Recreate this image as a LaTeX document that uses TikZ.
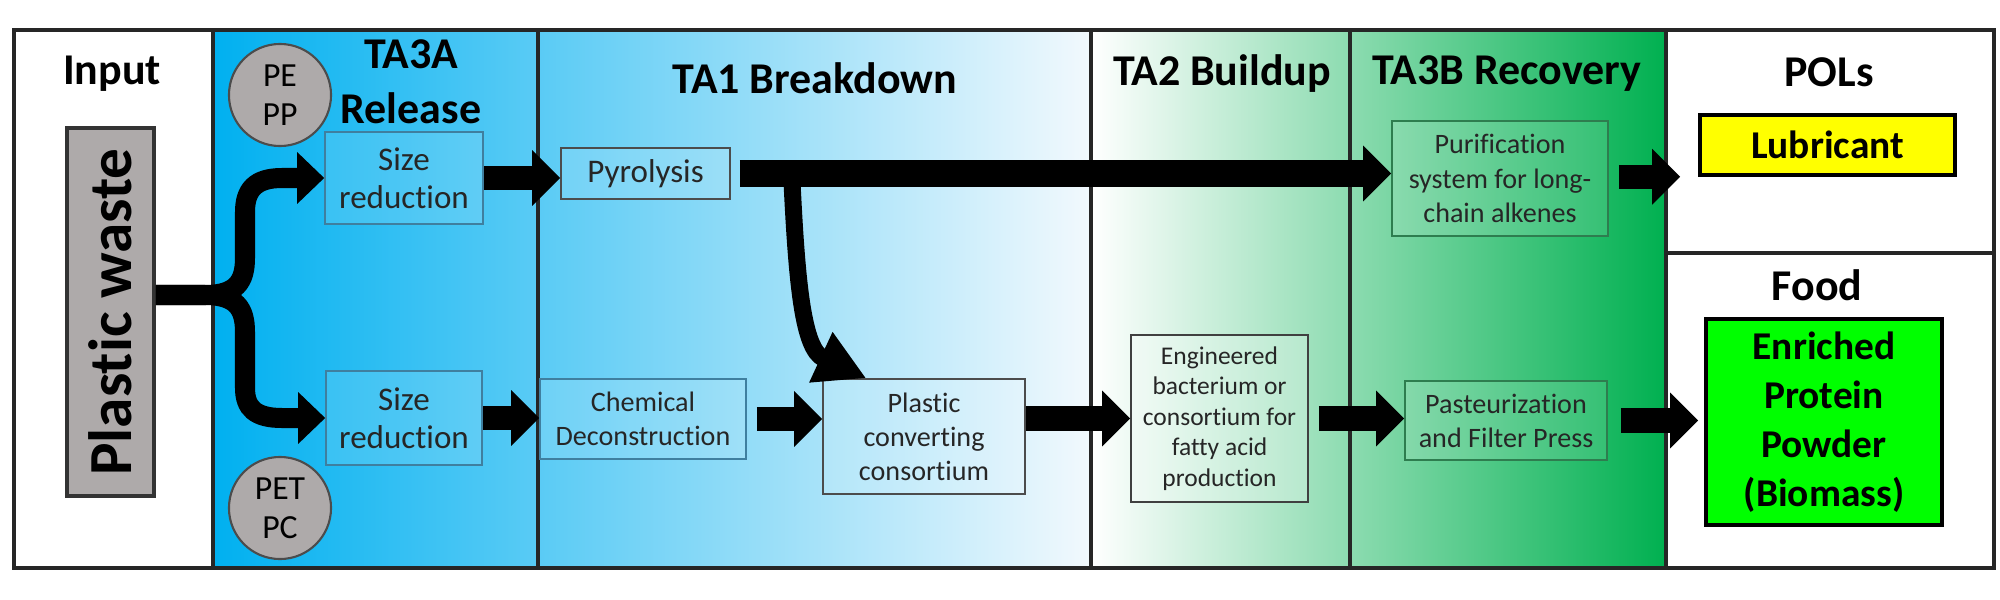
\documentclass[tikz,border=0pt]{standalone}
\usepackage{fontspec}
\setmainfont{Carlito}[Ligatures=CommonOff]
\usetikzlibrary{arrows.meta,calc}
\definecolor{releaseblue}{HTML}{00B0F0}
\definecolor{breakwhite}{HTML}{F2F9FD}
\definecolor{recoverygreen}{HTML}{00B050}
\definecolor{wastegray}{HTML}{AEAAAA}
\definecolor{lubeyellow}{HTML}{FFFF00}
\definecolor{foodgreen}{HTML}{00FF00}
\definecolor{blueedge}{HTML}{3F7F9F}
\definecolor{greenedge}{HTML}{2E7D4F}

\begin{document}
\begin{tikzpicture}[x=0.01cm, y=-0.01cm,
    every node/.style={align=center, inner sep=0pt, text=black},
    head/.style={font=\bfseries\fontsize{12.5}{15.6}\selectfont},
    procbox/.style={draw=blueedge, line width=0.4pt, fill=white, fill opacity=0.12,
                    text opacity=1, text=black!85, font=\fontsize{8}{9.7}\selectfont},
    bigbox/.style={procbox, font=\fontsize{9.4}{10.8}\selectfont},
    resin/.style={circle, draw=black!70, line width=0.6pt, fill=wastegray,
                  minimum size=1.02cm, font=\fontsize{9.6}{11}\selectfont},
    product/.style={draw=black, line width=1pt, font=\bfseries\fontsize{11.2}{13.9}\selectfont},
    flow/.style={line width=0.24cm, -{Triangle[length=0.28cm, width=0.54cm]}},
    fork/.style={line width=0.2cm, -{Triangle[length=0.27cm, width=0.5cm]}},
    divider/.style={black!85, line width=1pt}]

  \useasboundingbox (0,0) rectangle (2000,600);

  %% column backgrounds
  \fill[left color=releaseblue, right color=breakwhite] (213,30) rectangle (1091,568);
  \fill[left color=white, right color=recoverygreen] (1091,30) rectangle (1666,568);

  %% frame and column borders
  \foreach \xs in {213,538,1091,1350,1666}
    \draw[divider] (\xs,30) -- (\xs,568);
  \draw[divider] (1666,253) -- (1994,253);
  \draw[divider] (14,30) rectangle (1994,568);

  %% column titles
  \node[head] at (112,74) {Input};
  \node[head] at (411,81.5) {TA3A\\Release};
  \node[head] at (815,78) {TA1 Breakdown};
  \node[head] at (1222,74) {TA2 Buildup};
  \node[head] at (1507,74) {TA3B Recovery};
  \node[head] at (1829,72) {POLs};
  \node[head] at (1817,285) {Food};

  %% input
  \node[draw=black!80, line width=1pt, fill=wastegray, rotate=90,
        minimum width=3.68cm, minimum height=0.87cm,
        font=\bfseries\fontsize{17.4}{20}\selectfont] (pw) at (110.5,312) {Plastic waste};
  \coordinate (split) at ($(pw.south)+(0,-17)$);

  %% TA3A
  \node[resin] (pe) at (280,95) {PE\\PP};
  \node[resin] (pet) at (280,508) {PET\\PC};
  \node[bigbox, minimum width=1.58cm, minimum height=0.92cm] (sr1) at (404,178) {Size\\reduction};
  \node[bigbox, minimum width=1.56cm, minimum height=0.94cm] (sr2) at (404,418) {Size\\reduction};

  %% TA1
  \node[bigbox, draw=black!70, minimum width=1.69cm, minimum height=0.51cm] (pyro) at (645.5,173.5) {Pyrolysis};
  \node[procbox, minimum width=2.06cm, minimum height=0.8cm] (chem) at (643,419) {Chemical\\Deconstruction};
  \node[procbox, draw=black!70, minimum width=2.02cm, minimum height=1.15cm] (pcc) at (924,436.5) {Plastic\\converting\\consortium};

  %% TA2
  \node[procbox, draw=black!75, fill opacity=0.25, font=\fontsize{7.25}{8.7}\selectfont,
        minimum width=1.77cm, minimum height=1.67cm] (eng) at (1219.5,418.5)
        {Engineered\\bacterium or\\consortium for\\fatty acid\\production};

  %% TA3B
  \node[procbox, draw=greenedge, minimum width=2.16cm, minimum height=1.15cm] (puri) at (1500,178.5)
        {Purification\\system for long-\\chain alkenes};
  \node[procbox, draw=greenedge, minimum width=2.02cm, minimum height=0.79cm] (past) at (1506,420.5)
        {Pasteurization\\and Filter Press};

  %% products
  \node[product, fill=lubeyellow, minimum width=2.55cm, minimum height=0.6cm] (lub) at (1827.5,145) {Lubricant};
  \node[product, fill=foodgreen, minimum width=2.36cm, minimum height=2.06cm] (food) at (1824,422)
        {Enriched\\Protein\\Powder\\(Biomass)};

  %% split of the waste stream
  \draw[fork] (split) -- (205,295) .. controls (236,295) and (245,282) .. (245,258)
    -- (245,212) .. controls (245,190) and (255,178) .. (282,178) -- (sr1);
  \draw[fork] (split) -- (205,295) .. controls (236,295) and (245,308) .. (245,332)
    -- (245,388) .. controls (245,408) and (255,418) .. (282,418) -- (sr2);

  %% upper route
  \draw[flow] (sr1) -- (sr1 -| pyro.west);
  \draw[flow, line width=0.27cm, shorten <=0.09cm] (pyro) -- (pyro -| puri.west);
  \draw[flow, shorten <=0.1cm, shorten >=0.18cm] (puri.east |- lub.south) -- (lub.south west);
  \coordinate (tap) at (792,182);
  \draw[line width=0.17cm, -{Triangle[length=0.5cm, width=0.52cm]}]
    (tap) .. controls (797,285) and (803,349) .. ($(pcc.north west)+(44,0)$);

  %% lower route
  \draw[flow] (sr2) -- (sr2 -| chem.west);
  \draw[flow, shorten <=0.1cm] (chem) -- (chem -| pcc.west);
  \draw[flow] (pcc.east |- eng) -- (eng);
  \draw[flow, shorten <=0.1cm] (eng) -- (eng -| past.west);
  \draw[flow, shorten <=0.13cm, shorten >=0.06cm] (past) -- (past -| food.west);

\end{tikzpicture}
\end{document}
